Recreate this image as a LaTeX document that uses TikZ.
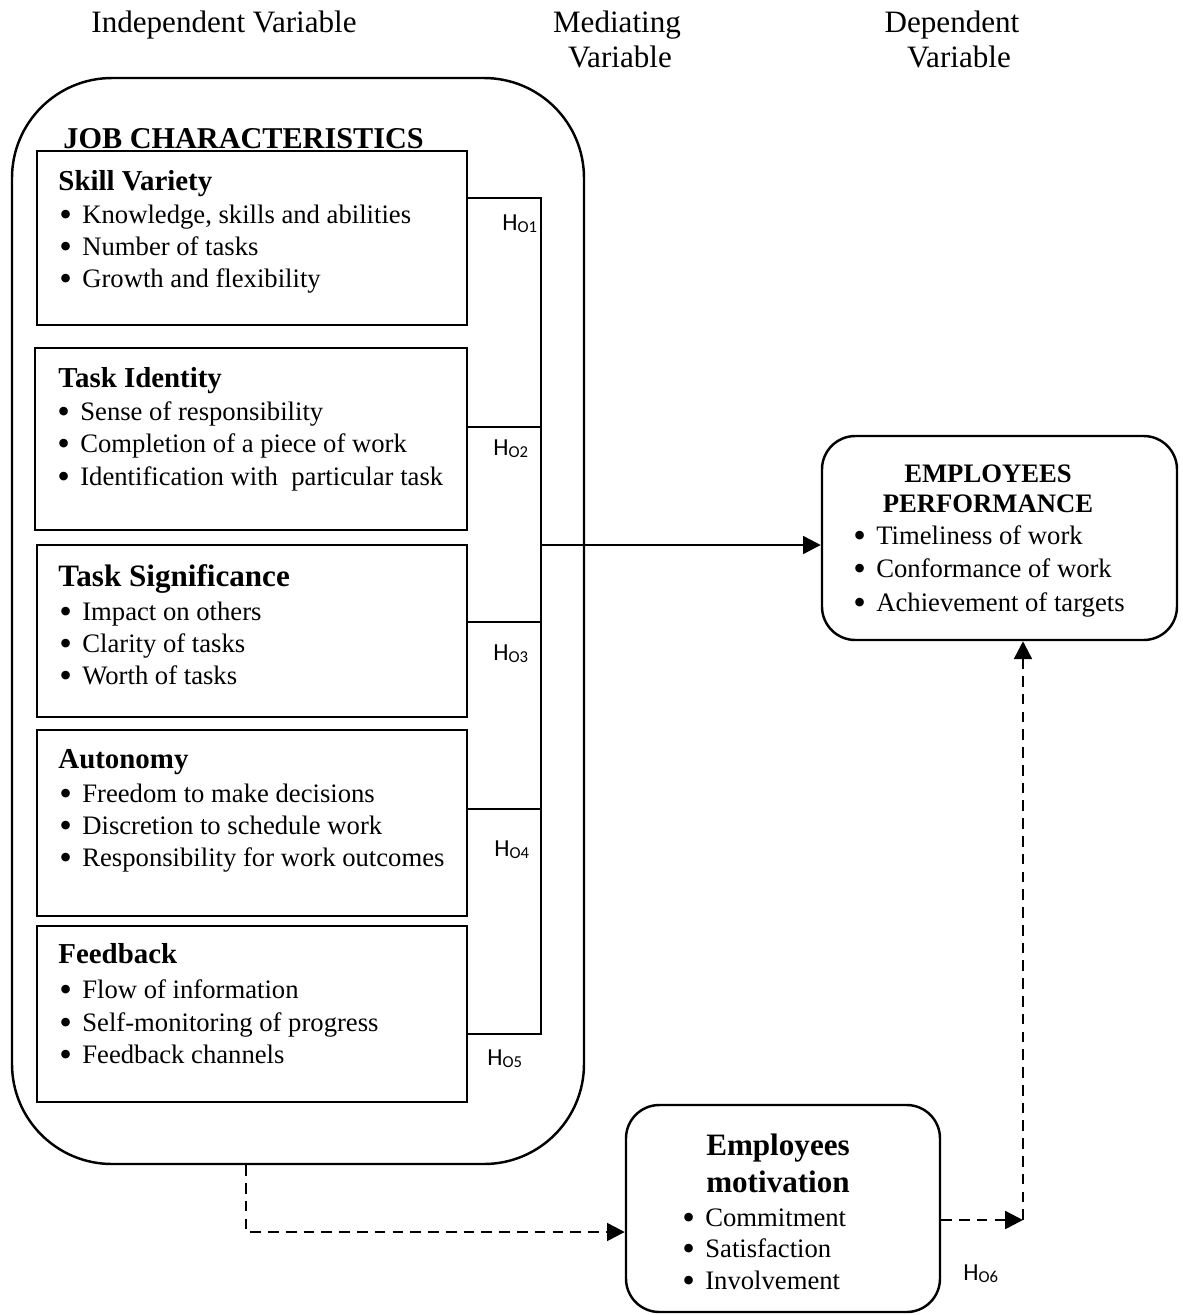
\documentclass[tikz,border=0pt]{standalone}
\usepackage{fontspec}
\setmainfont{Liberation Serif}
\newfontfamily\hfont{Carlito}
\usetikzlibrary{arrows.meta,fit}
\begin{document}
\begin{tikzpicture}[x=0.45pt,y=-0.45pt,
  box/.style={draw,line width=1.1pt,inner sep=0pt},
  link/.style={line width=1.1pt},
  arr/.style={link,-{Triangle[length=8pt,width=8pt]}},
  dsh/.style={dash pattern=on 4.8pt off 3.2pt},
  txt/.style={inner sep=0pt,anchor=base west,font=\fontsize{12}{14}\selectfont},
  bul/.style={txt,execute at begin node={\makebox[10.3pt][l]{\raisebox{-1.5pt}{\scalebox{1.35}{\textbullet}}}}},
  ttl/.style={inner sep=0pt,anchor=base west,font=\bfseries\fontsize{13}{15}\selectfont},
  bigttl/.style={inner sep=0pt,anchor=base west,font=\bfseries\fontsize{14}{16}\selectfont},
  hd/.style={inner sep=0pt,anchor=base,font=\fontsize{14}{16}\selectfont},
  ctl/.style={inner sep=0pt,anchor=base,font=\bfseries\fontsize{12}{14}\selectfont},
  mtl/.style={inner sep=0pt,anchor=base,font=\bfseries\fontsize{14}{16}\selectfont},
  hyp/.style={inner sep=0pt,anchor=base west,font=\hfont\fontsize{11}{13}\selectfont}
]
\useasboundingbox (0,0) rectangle (1183,1315);
% headers
\node[hd] (iv) at (224,32) {Independent Variable};
\node[hd] (mv1) at (617,32) {Mediating};
\node[hd] (mv2) at (620,67) {Variable};
\node[hd] (dv1) at (952,32) {Dependent};
\node[hd] (dv2) at (959,67) {Variable};
% outer box
\node[box,rounded corners=45pt,fit={(12,78)(584,1164)}] (jc) {};
\node[inner sep=0pt,anchor=base west,font=\bfseries\fontsize{13.6}{16}\selectfont] (jct) at (63,148) {JOB CHARACTERISTICS};
% inner boxes
\node[box,fit={(37,151)(467,325)}] (sv) {};
\node[box,fit={(35,348)(467,530)}] (ti) {};
\node[box,fit={(37,545)(467,717)}] (ts) {};
\node[box,fit={(37,730)(467,916)}] (au) {};
\node[box,fit={(37,926)(467,1102)}] (fb) {};
% skill variety
\node[ttl] (svt) at (58,190) {Skill Variety};
\node[bul] (sv1) at (59,223) {Knowledge, skills and abilities};
\node[bul] (sv2) at (59,255) {Number of tasks};
\node[bul] (sv3) at (59,287) {Growth and flexibility};
% task identity
\node[ttl] (tit) at (58,387) {Task Identity};
\node[bul] (ti1) at (57,420) {Sense of responsibility};
\node[bul] (ti2) at (57,452) {Completion of a piece of work};
\node[bul] (ti3) at (57,485) {Identification with\ \ particular task};
% task significance
\node[bigttl] (tst) at (58,586) {Task Significance};
\node[bul] (ts1) at (59,620) {Impact on others};
\node[bul] (ts2) at (59,652) {Clarity of tasks};
\node[bul] (ts3) at (59,684) {Worth of tasks};
% autonomy
\node[ttl] (aut) at (58,768) {Autonomy};
\node[bul] (au1) at (59,802) {Freedom to make decisions};
\node[bul] (au2) at (59,834) {Discretion to schedule work};
\node[bul] (au3) at (59,866) {Responsibility for work outcomes};
% feedback
\node[ttl] (fbt) at (58,963) {Feedback};
\node[bul] (fb1) at (59,998) {Flow of information};
\node[bul] (fb2) at (59,1031) {Self-monitoring of progress};
\node[bul] (fb3) at (59,1063) {Feedback channels};
% performance
\node[box,rounded corners=15pt,fit={(822,436)(1177,640)}] (perf) {};
\node[ctl] (pt1) at (988,482) {EMPLOYEES};
\node[ctl] (pt2) at (988,512) {PERFORMANCE};
\node[bul] (pf1) at (853,544) {Timeliness of work};
\node[bul] (pf2) at (853,577) {Conformance of work};
\node[bul] (pf3) at (853,611) {Achievement of targets};
% motivation
\node[box,rounded corners=15pt,fit={(626,1105)(940,1312)}] (mot) {};
\node[mtl] (mt1) at (778,1155) {Employees};
\node[mtl] (mt2) at (778,1192) {motivation};
\node[bul] (mo1) at (682,1226) {Commitment};
\node[bul] (mo2) at (682,1257) {Satisfaction};
\node[bul] (mo3) at (682,1289) {Involvement};
% hypothesis labels
\newcommand\hsub[1]{H\raisebox{-1.3pt}{\fontsize{7.5}{8}\selectfont #1}}
\node[hyp] (h1) at (502,230) {\hsub{O1}};
\node[hyp] (h2) at (493,455) {\hsub{O2}};
\node[hyp] (h3) at (493,660) {\hsub{O3}};
\node[hyp] (h4) at (494,856) {\hsub{O4}};
\node[hyp] (h5) at (487,1065) {\hsub{O5}};
\node[hyp] (h6) at (963,1280) {\hsub{O6}};
% bracket
\coordinate (b1) at (541,198);
\coordinate (b2) at (541,427);
\coordinate (b3) at (541,622);
\coordinate (b4) at (541,809);
\coordinate (b5) at (541,1034);
\draw[link] (sv.east |- b1) -- (b1) -- (b5) -- (fb.east |- b5);
\draw[link] (ti.east |- b2) -- (b2);
\draw[link] (ts.east |- b3) -- (b3);
\draw[link] (au.east |- b4) -- (b4);
\coordinate (jn) at (541,545);
\draw[arr] (jn) -- (jn -| perf.west);
% dashed connectors
\coordinate (c1) at (246,1232);
\draw[arr,dsh] (jc.south -| c1) -- (c1) -- (c1 -| mot.west);
\coordinate (c2) at (1023,1220);
\draw[arr,dsh] (mot.east |- c2) -- (c2);
\draw[arr,dsh] (c2) -- (c2 |- perf.south);
\end{tikzpicture}
\end{document}
